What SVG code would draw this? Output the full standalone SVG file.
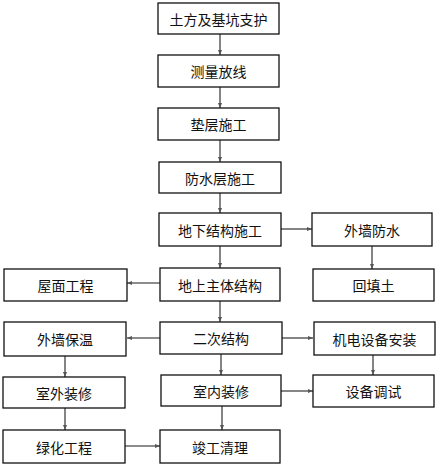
<svg xmlns="http://www.w3.org/2000/svg" width="440" height="467" viewBox="0 0 440 467">
<defs>
<marker id="ah" viewBox="0 0 10 10" refX="10" refY="5" markerWidth="5" markerHeight="5" orient="auto" markerUnits="userSpaceOnUse">
<path d="M0,1 L10,5 L0,9 Z" fill="#555"/>
</marker>
<style>
.box{fill:#fff;stroke:#111;stroke-width:1.3}
.t{font-family:"Noto Sans CJK SC","Noto Sans",sans-serif;font-size:14px;fill:#111;text-anchor:middle;dominant-baseline:central}
.c{stroke:#666;stroke-width:1.6;fill:none;marker-end:url(#ah)}
</style>
</defs>
<rect width="440" height="467" fill="#fff"/>
<g id="connectors">
<line class="c" x1="220" y1="34" x2="220" y2="55"/>
<line class="c" x1="220" y1="87" x2="220" y2="108"/>
<line class="c" x1="220" y1="140" x2="220" y2="162"/>
<line class="c" x1="220" y1="193" x2="220" y2="213"/>
<line class="c" x1="281" y1="229" x2="312" y2="229"/>
<line class="c" x1="372" y1="246" x2="372" y2="269"/>
<line class="c" x1="220" y1="246" x2="220" y2="268"/>
<line class="c" x1="160" y1="283" x2="127" y2="283"/>
<line class="c" x1="220" y1="301" x2="220" y2="322"/>
<line class="c" x1="160" y1="338" x2="127" y2="338"/>
<line class="c" x1="282" y1="338" x2="313" y2="338"/>
<line class="c" x1="221" y1="354" x2="221" y2="375"/>
<line class="c" x1="65" y1="356" x2="65" y2="377"/>
<line class="c" x1="373" y1="355" x2="373" y2="375"/>
<line class="c" x1="281" y1="391" x2="313" y2="391"/>
<line class="c" x1="65" y1="408" x2="65" y2="430"/>
<line class="c" x1="125" y1="446" x2="160" y2="446"/>
<line class="c" x1="222" y1="406" x2="222" y2="430"/>
</g>
<g id="n1"><rect class="box" x="158" y="3" width="121" height="31"/><text class="t" x="218.5" y="18.5">土方及基坑支护</text></g>
<g id="n2"><rect class="box" x="158" y="55" width="121" height="32"/><text class="t" x="218.5" y="71">测量放线</text></g>
<g id="n3"><rect class="box" x="158" y="108" width="121" height="32"/><text class="t" x="218.5" y="124">垫层施工</text></g>
<g id="n4"><rect class="box" x="159" y="162" width="122" height="31"/><text class="t" x="220" y="177.5">防水层施工</text></g>
<g id="n5"><rect class="box" x="159" y="213" width="122" height="33"/><text class="t" x="220" y="229.5">地下结构施工</text></g>
<g id="n6"><rect class="box" x="312" y="213" width="120" height="33"/><text class="t" x="372" y="229.5">外墙防水</text></g>
<g id="n7"><rect class="box" x="4" y="269" width="123" height="32"/><text class="t" x="65.5" y="285">屋面工程</text></g>
<g id="n8"><rect class="box" x="160" y="268" width="120" height="33"/><text class="t" x="220" y="284.5">地上主体结构</text></g>
<g id="n9"><rect class="box" x="313" y="269" width="121" height="32"/><text class="t" x="373.5" y="285">回填土</text></g>
<g id="n10"><rect class="box" x="4" y="322" width="122" height="34"/><text class="t" x="65" y="339">外墙保温</text></g>
<g id="n11"><rect class="box" x="160" y="322" width="122" height="32"/><text class="t" x="221" y="338">二次结构</text></g>
<g id="n12"><rect class="box" x="314" y="322" width="121" height="33"/><text class="t" x="374.5" y="338.5">机电设备安装</text></g>
<g id="n13"><rect class="box" x="3" y="377" width="122" height="31"/><text class="t" x="64" y="392.5">室外装修</text></g>
<g id="n14"><rect class="box" x="161" y="375" width="120" height="31"/><text class="t" x="221" y="390.5">室内装修</text></g>
<g id="n15"><rect class="box" x="313" y="375" width="121" height="32"/><text class="t" x="373.5" y="391">设备调试</text></g>
<g id="n16"><rect class="box" x="3" y="430" width="122" height="33"/><text class="t" x="64" y="446.5">绿化工程</text></g>
<g id="n17"><rect class="box" x="160" y="430" width="120" height="33"/><text class="t" x="220" y="446.5">竣工清理</text></g>
</svg>
